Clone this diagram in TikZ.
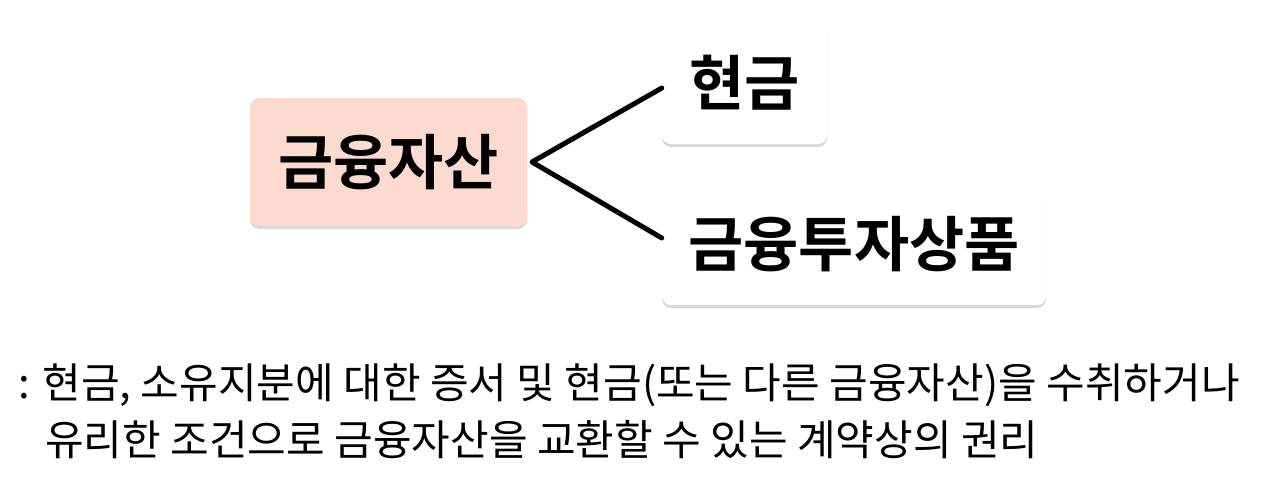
\documentclass[tikz,border=0pt]{standalone}
\usepackage{fontspec}
\setmainfont{Noto Sans CJK KR}
\newfontfamily\krb{Noto Sans CJK KR}[UprightFont=* Bold]
\usetikzlibrary{shadows}
\definecolor{pinkbox}{HTML}{FDDAD0}
\tikzset{
 box/.style={rounded corners=9pt, draw=none, inner sep=0pt, font=\krb\fontsize{60}{66}\selectfont,
   drop shadow={shadow xshift=0pt, shadow yshift=-3pt, fill=black, opacity=0.15}},
 link/.style={line width=5pt, line cap=round, line join=round},
 txt/.style={anchor=west, font=\fontsize{42}{50}\selectfont, inner sep=0pt}
}
\begin{document}
\begin{tikzpicture}[x=1pt,y=-1pt]
\useasboundingbox (0,0) rectangle (1280,479);
\node[box, fill=pinkbox, minimum width=277pt, minimum height=128pt] (fa) at (388.5,162) {금융자산};
\node[box, fill=white, minimum width=165pt, minimum height=122pt] (cash) at (744.5,83) {현금};
\node[box, fill=white, minimum width=384pt, minimum height=122pt] (fip) at (854,244) {금융투자상품};
\coordinate (j) at (532,162);
\draw[link] (cash.west |- 0,88) -- (j) -- (fip.west |- 0,238);
\node[txt] (l1) at (18,385) {: 현금, 소유지분에 대한 증서 및 현금(또는 다른 금융자산)을 수취하거나};
\node[txt] (l2) at (45,440) {유리한 조건으로 금융자산을 교환할 수 있는 계약상의 권리};
\end{tikzpicture}
\end{document}
